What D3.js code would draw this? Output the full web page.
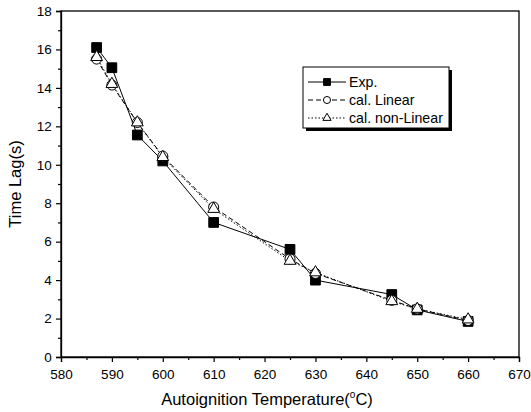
<!DOCTYPE html>
<html>
<head>
<meta charset="utf-8">
<script src="https://cdn.jsdelivr.net/npm/d3@7"></script>
<style>
  body { margin: 0; background: #fff; }
  text { font-family: "Liberation Sans", Arial, sans-serif; }
</style>
</head>
<body>
<svg id="chart" width="531" height="412"></svg>
<script>
// temperatures (C) and time lags (s)
var temps = [587, 590, 595, 600, 610, 625, 630, 645, 650, 660];
var expLag = [16.1, 15.05, 11.55, 10.2, 7.0, 5.6, 4.0, 3.25, 2.45, 1.85];
var linLag = [15.5, 14.15, 12.2, 10.45, 7.8, 5.1, 4.35, 2.95, 2.5, 1.9];
var nonLinLag = [15.6, 14.2, 12.2, 10.4, 7.7, 5.0, 4.4, 2.9, 2.5, 1.95];
var xTicks = [580, 590, 600, 610, 620, 630, 640, 650, 660, 670];
var yTicks = [0, 2, 4, 6, 8, 10, 12, 14, 16, 18];
var seriesNames = ["Exp.", "cal. Linear", "cal. non-Linear"];

window.onload = function () {
    drawChart();
};

function drawChart() {
    var svg = d3.select("#chart"),
        margin = {top: 11, right: 12, bottom: 55, left: 61},
        width = +svg.attr("width") - margin.left - margin.right,
        height = +svg.attr("height") - margin.top - margin.bottom,
        g = svg.append("g").attr("transform", "translate(" + margin.left + "," + margin.top + ")");

    var x = d3.scaleLinear().domain([580, 670]).range([0, width]);
    var y = d3.scaleLinear().domain([0, 18]).range([height, 0]);

    // frame
    g.append("rect")
        .attr("width", width)
        .attr("height", height)
        .attr("fill", "none")
        .attr("stroke", "#000")
        .attr("stroke-width", 1.3);

    // x axis, major + minor ticks
    var xAxis = g.append("g")
        .attr("transform", "translate(0," + height + ")")
        .call(d3.axisBottom(x).tickValues(xTicks).tickSize(5).tickFormat(d3.format("d")));
    g.append("g")
        .attr("transform", "translate(0," + height + ")")
        .call(d3.axisBottom(x).tickValues(d3.range(585, 670, 10)).tickSize(3).tickFormat(""))
        .select(".domain").remove();

    var yAxis = g.append("g")
        .call(d3.axisLeft(y).tickValues(yTicks).tickSize(5));
    g.append("g")
        .call(d3.axisLeft(y).tickValues(d3.range(1, 18, 2)).tickSize(3).tickFormat(""))
        .select(".domain").remove();

    g.selectAll(".domain").attr("stroke-width", 1.3);
    g.selectAll(".tick line").attr("stroke-width", 1.2);
    xAxis.selectAll("text")
        .attr("font-size", 13.5)
        .attr("font-family", "Liberation Sans, Arial, sans-serif")
        .attr("dy", "1.05em");
    yAxis.selectAll("text")
        .attr("font-size", 13.5)
        .attr("font-family", "Liberation Sans, Arial, sans-serif")
        .attr("dx", "-0.1em");

    // axis titles
    var xt = svg.append("text")
        .attr("x", 267)
        .attr("y", 405)
        .attr("text-anchor", "middle")
        .attr("font-size", 16.5);
    xt.append("tspan").text("Autoignition Temperature(");
    xt.append("tspan").attr("font-size", 10).attr("dy", -7).text("o");
    xt.append("tspan").attr("dy", 7).text("C)");

    svg.append("text")
        .attr("transform", "translate(21," + (margin.top + height / 2) + ") rotate(-90)")
        .attr("text-anchor", "middle")
        .attr("font-size", 16.5)
        .text("Time Lag(s)");

    var series = [
        {name: seriesNames[0], values: expLag, dash: null, marker: "square"},
        {name: seriesNames[1], values: linLag, dash: "5,3", marker: "circle"},
        {name: seriesNames[2], values: nonLinLag, dash: "1.5,2", marker: "triangle"}
    ];

    var line = d3.line()
        .x(function(d) { return x(d[0]); })
        .y(function(d) { return y(d[1]); });

    series.forEach(function(s) {
        var pts = temps.map(function(t, i) { return [t, s.values[i]]; });
        g.append("path")
            .datum(pts)
            .attr("d", line)
            .attr("fill", "none")
            .attr("stroke", "#000")
            .attr("stroke-width", 1)
            .attr("stroke-dasharray", s.dash);
    });

    series.forEach(function(s) {
        var pts = temps.map(function(t, i) { return [t, s.values[i]]; });
        g.append("g").selectAll("path")
            .data(pts)
            .enter().append("path")
            .attr("transform", function(d) { return "translate(" + x(d[0]) + "," + y(d[1]) + ")"; })
            .attr("d", markerPath(s.marker))
            .attr("fill", s.marker == "square" ? "#000" : "#fff")
            .attr("stroke", "#000")
            .attr("stroke-width", 1);
    });

    // legend with drop shadow
    var lg = svg.append("g").attr("transform", "translate(303,67)");
    lg.append("rect").attr("x", 3).attr("y", 3).attr("width", 146).attr("height", 61).attr("fill", "#000");
    lg.append("rect").attr("width", 146).attr("height", 61).attr("fill", "#fff").attr("stroke", "#000").attr("stroke-width", 1);

    var item = lg.selectAll(".item")
        .data(series)
        .enter().append("g")
        .attr("class", "item")
        .attr("transform", function(d, i) { return "translate(0," + (15 + i * 18) + ")"; });

    item.append("line")
        .attr("x1", 5).attr("x2", 43)
        .attr("stroke", "#000")
        .attr("stroke-width", 1)
        .attr("stroke-dasharray", function(d) { return d.dash; });
    item.append("path")
        .attr("transform", "translate(24,0)")
        .attr("d", function(d) { return markerPath(d.marker, 0.7); })
        .attr("fill", function(d) { return d.marker == "square" ? "#000" : "#fff"; })
        .attr("stroke", "#000");
    item.append("text")
        .attr("x", 46)
        .attr("dy", "0.35em")
        .attr("font-size", 14.2)
        .text(function(d) { return d.name; });
}

function markerPath(type, k) {
    k = k || 1;
    if (type == "square") return d3.symbol().type(d3.symbolSquare).size(95 * k * k)();
    if (type == "circle") return d3.symbol().type(d3.symbolCircle).size(80 * k * k)();
    return d3.symbol().type(d3.symbolTriangle).size(60 * k * k)();
}
</script>
</body>
</html>
